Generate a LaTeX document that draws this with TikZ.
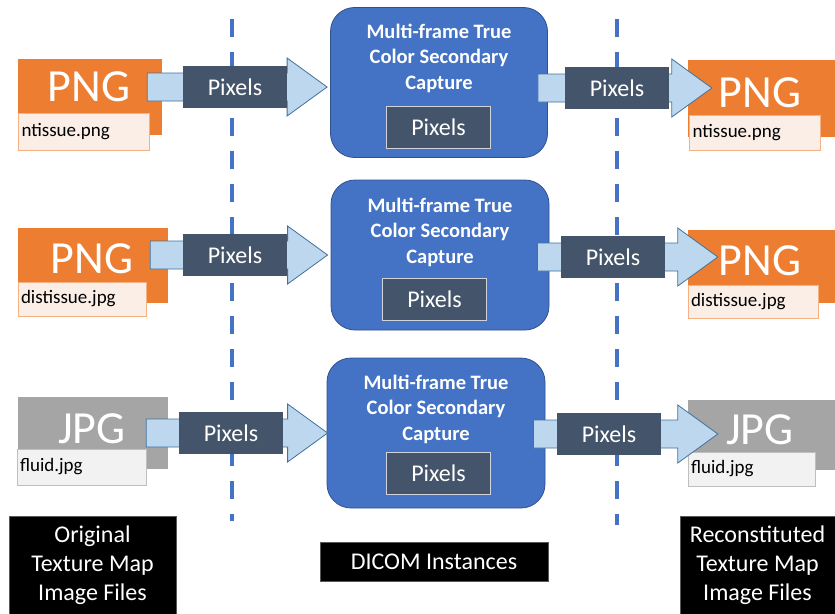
\documentclass[tikz,border=0pt]{standalone}
\usepackage{fontspec}
\setmainfont{Carlito}
\usepackage{tikz}
\usetikzlibrary{calc}
\definecolor{pngorange}{HTML}{ED7D31}
\definecolor{jpggray}{HTML}{A5A5A5}
\definecolor{pixslate}{HTML}{44546A}
\definecolor{dcmblue}{HTML}{4472C4}
\definecolor{dcmline}{HTML}{2F528F}
\definecolor{arrowfill}{HTML}{BDD7EE}
\definecolor{arrowline}{HTML}{41719C}
\definecolor{orangepale}{HTML}{FBEEE7}
\definecolor{orangeline}{HTML}{F4B183}
\definecolor{graypale}{HTML}{F2F2F2}
\definecolor{grayline}{HTML}{BFBFBF}
\pgfdeclarelayer{back}
\pgfdeclarelayer{mid}
\pgfsetlayers{back,mid,main}
\tikzset{
    filebox/.style = {fill=#1, rectangle, inner sep=0pt, minimum height=75pt},
    typetext/.style = {text=white, inner sep=0pt, font=\fontsize{46}{50}\selectfont},
    namebox/.style 2 args = {draw=#2, fill=#1, thin, rectangle, inner xsep=3pt, inner ysep=0pt, minimum height=35pt, text width=125pt, align=left, font=\fontsize{19}{21}\selectfont},
    pixbox/.style = {fill=pixslate, text=white, rectangle, inner sep=0pt, minimum width=104pt, minimum height=42pt, font=\fontsize{24}{26}\selectfont},
    dcmbox/.style = {fill=dcmblue, draw=dcmline, thick, rectangle, rounded corners=24pt, minimum width=217pt, minimum height=150pt},
    dcmtitle/.style = {text=white, align=center, inner sep=0pt, font=\bfseries\fontsize{20.5}{25.5}\selectfont},
    fatarrow/.style = {fill=arrowfill, draw=arrowline, line width=0.8pt, line join=miter},
    divider/.style = {draw=dcmblue, line width=4pt, dash pattern=on 18pt off 15pt},
    blackbox/.style = {fill=black, draw=black!65, text=white, rectangle, inner sep=0pt, align=center, font=\fontsize{24}{29}\selectfont},
}
% block arrow: from, to, level, shift at start, shift at tip
\newcommand{\blockarrow}[5]{%
  \draw[fatarrow] let \p1=(#1), \p2=(#2), \p3=(#3) in
    (\x1+#4,\y3+14pt) -- (\x2+#5-40pt,\y3+14pt) -- (\x2+#5-40pt,\y3+29pt)
    -- (\x2+#5,\y3) -- (\x2+#5-40pt,\y3-29pt) -- (\x2+#5-40pt,\y3-14pt)
    -- (\x1+#4,\y3-14pt) -- cycle;}

\begin{document}
\begin{tikzpicture}[x=1pt, y=-1pt]
\useasboundingbox (0,0) rectangle (835,613);

% pixel boxes on top
\node[pixbox] (pxl1) at (235,87) {Pixels};
\node[pixbox] (pxr1) at (617,88) {Pixels};
\node[pixbox, draw=white!75!pixslate] (in1) at (438.5,127) {Pixels};
\node[pixbox] (pxl2) at (235,255) {Pixels};
\node[pixbox] (pxr2) at (613,257) {Pixels};
\node[pixbox, draw=white!75!pixslate] (in2) at (434.5,299.5) {Pixels};
\node[pixbox] (pxl3) at (231,433) {Pixels};
\node[pixbox] (pxr3) at (609,434) {Pixels};
\node[pixbox, draw=white!75!pixslate] (in3) at (438.5,473.5) {Pixels};

\begin{pgfonlayer}{back}
\draw[divider] (232,19) -- (232,521);
\draw[divider] (617,19) -- (617,525);

% row 1
\node[filebox=pngorange, minimum width=144pt, minimum height=76pt] (src1) at (90,97) {};
\node[typetext] (src1t) at (89,87) {PNG};
\node[namebox={orangepale}{orangeline}, minimum height=37pt] (src1n) at (84,131.5) {ntissue.png};
\node[dcmbox] (dcm1) at (439,82.5) {};
\node[dcmtitle] (dcm1t) at (439,58) {Multi-frame True\\Color Secondary\\Capture};
\node[filebox=pngorange, minimum width=147pt, minimum height=77pt] (dst1) at (761.5,98.5) {};
\node[typetext] (dst1t) at (760,93) {PNG};
\node[namebox={orangepale}{orangeline}] (dst1n) at (755,132.5) {ntissue.png};

% row 2
\node[filebox=pngorange, minimum width=150pt] (src2) at (93,265.5) {};
\node[typetext] (src2t) at (92,259) {PNG};
\node[namebox={orangepale}{orangeline}, text width=122pt, minimum height=34pt] (src2n) at (82,299) {distissue.jpg};
\node[dcmbox, minimum width=218pt] (dcm2) at (440,255) {};
\node[dcmtitle] (dcm2t) at (440,232) {Multi-frame True\\Color Secondary\\Capture};
\node[filebox=pngorange, minimum width=147pt, minimum height=73pt] (dst2) at (761.5,266.5) {};
\node[typetext] (dst2t) at (760,261) {PNG};
\node[namebox={orangepale}{orangeline}, text width=124pt, minimum height=33pt] (dst2n) at (753,301.5) {distissue.jpg};

% row 3
\node[filebox=jpggray, minimum width=150pt, minimum height=72pt] (src3) at (93,433) {};
\node[typetext] (src3t) at (92,429) {JPG};
\node[namebox={graypale}{grayline}, text width=123pt, minimum height=36pt] (src3n) at (81.5,467) {fluid.jpg};
\node[dcmbox, minimum width=218pt] (dcm3) at (436,433) {};
\node[dcmtitle] (dcm3t) at (436,409) {Multi-frame True\\Color Secondary\\Capture};
\node[filebox=jpggray, minimum width=147pt, minimum height=70pt] (dst3) at (761.5,435) {};
\node[typetext] (dst3t) at (760,430) {JPG};
\node[namebox={graypale}{grayline}, text width=121pt, minimum height=34pt] (dst3n) at (751.5,469) {fluid.jpg};

% captions
\node[blackbox, minimum width=167pt, minimum height=98pt] (orig) at (92.5,565) {Original\\Texture Map\\Image Files};
\node[blackbox, minimum width=228pt, minimum height=39pt] (inst) at (434,561.5) {DICOM Instances};
\node[blackbox, minimum width=155pt, minimum height=98pt] (recon) at (757.5,565) {Reconstituted\\Texture Map\\Image Files};
\end{pgfonlayer}

\begin{pgfonlayer}{mid}
\blockarrow{src1.east}{dcm1.west}{pxl1}{-15pt}{-3pt}
\blockarrow{dcm1.east}{dst1.west}{pxr1}{-10pt}{24pt}
\blockarrow{src2.east}{dcm2.west}{pxl2}{-18pt}{-3pt}
\blockarrow{dcm2.east}{dst2.west}{pxr2}{-12pt}{30pt}
\blockarrow{src3.east}{dcm3.west}{pxl3}{-22pt}{1pt}
\blockarrow{dcm3.east}{dst3.west}{pxr3}{-12pt}{30pt}
\end{pgfonlayer}
\end{tikzpicture}
\end{document}
